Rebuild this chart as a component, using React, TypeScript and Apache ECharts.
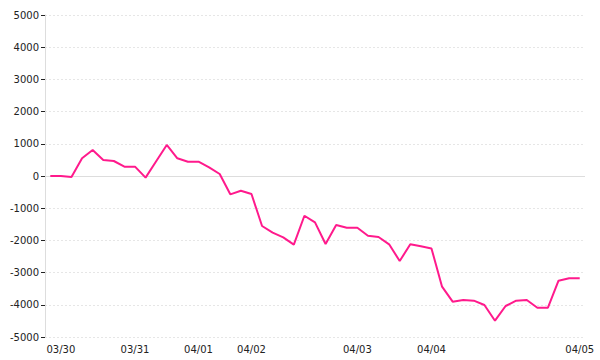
import React, { useEffect, useRef } from "react";
import * as echarts from "echarts";

const categories: string[] = [
  "03/29 a", "03/30", "03/30 b", "03/30 c", "03/30 d", "03/30 e", "03/30 f", "03/30 g",
  "03/31", "03/31 b", "03/31 c", "03/31 d", "03/31 e", "03/31 f",
  "04/01", "04/01 b", "04/01 c", "04/01 d", "04/01 e",
  "04/02", "04/02 b", "04/02 c", "04/02 d", "04/02 e", "04/02 f", "04/02 g", "04/02 h", "04/02 i", "04/02 j",
  "04/03", "04/03 b", "04/03 c", "04/03 d", "04/03 e", "04/03 f", "04/03 g",
  "04/04", "04/04 b", "04/04 c", "04/04 d", "04/04 e", "04/04 f", "04/04 g", "04/04 h", "04/04 i", "04/04 j", "04/04 k", "04/04 l", "04/04 m", "04/04 n",
  "04/05",
];

const labelIndices: number[] = [1, 8, 14, 19, 29, 36, 50];
const labelTexts: string[] = ["03/30", "03/31", "04/01", "04/02", "04/03", "04/04", "04/05"];

const values: number[] = [
  0, 0, -30, 550, 807, 497, 466, 290, 290, -50,
  460, 963, 550, 444, 444, 270, 62, -569, -456, -559,
  -1553, -1760, -1904, -2133, -1235, -1439, -2112, -1522, -1605, -1605,
  -1854, -1894, -2122, -2640, -2122, -2184, -2250, -3437, -3903, -3851,
  -3872, -4006, -4494, -4037, -3872, -3851, -4090, -4090, -3251, -3178,
  -3178,
];

const yTicks = { min: -5000, max: 5000, interval: 1000 };

export default function App() {
  const ref = useRef<HTMLDivElement>(null);
  useEffect(() => {
    if (!ref.current) return;
    const chart = echarts.init(ref.current, undefined, { renderer: "svg" });
    const labelMap: Record<number, string> = {};
    labelIndices.forEach((idx, k) => (labelMap[idx] = labelTexts[k]));
    chart.setOption({
      animation: false,
      backgroundColor: "#ffffff",
      grid: { left: 45, right: 15, top: 15, bottom: 23, containLabel: false },
      xAxis: {
        type: "category",
        data: categories,
        boundaryGap: true,
        axisLine: { show: false, onZero: false },
        axisTick: { show: false },
        splitLine: { show: false },
        axisLabel: {
          interval: (idx: number) => labelMap[idx] !== undefined,
          formatter: (_v: string, idx: number) => labelMap[idx] ?? "",
          color: "#222",
          fontFamily: "DejaVu Sans",
          fontSize: 10,
          margin: 7,
          hideOverlap: false,
        },
      },
      yAxis: {
        type: "value",
        min: yTicks.min,
        max: yTicks.max,
        interval: yTicks.interval,
        axisLine: { show: true, lineStyle: { color: "#dddddd", width: 1 } },
        axisTick: { show: true, length: 4, lineStyle: { color: "#222222", width: 1 } },
        axisLabel: {
          color: "#222",
          fontFamily: "DejaVu Sans",
          fontSize: 10,
          margin: 6,
          formatter: (v: number) => String(v),
        },
        splitLine: {
          show: true,
          lineStyle: { color: "#e6e6e6", type: [2, 2], width: 1 },
        },
      },
      series: [
        {
          type: "line",
          data: values,
          showSymbol: false,
          symbol: "none",
          lineStyle: { color: "#ff1a8c", width: 2 },
          itemStyle: { color: "#ff1a8c" },
          z: 3,
          markLine: {
            silent: true,
            symbol: "none",
            label: { show: false },
            lineStyle: { color: "#dddddd", type: "solid", width: 1 },
            data: [{ yAxis: 0 }],
            z: 1,
          },
        },
      ],
    });
    return () => chart.dispose();
  }, []);
  return (
    <div
      ref={ref}
      style={{ position: "absolute", left: 0, top: 0, width: 600, height: 360 }}
    />
  );
}
